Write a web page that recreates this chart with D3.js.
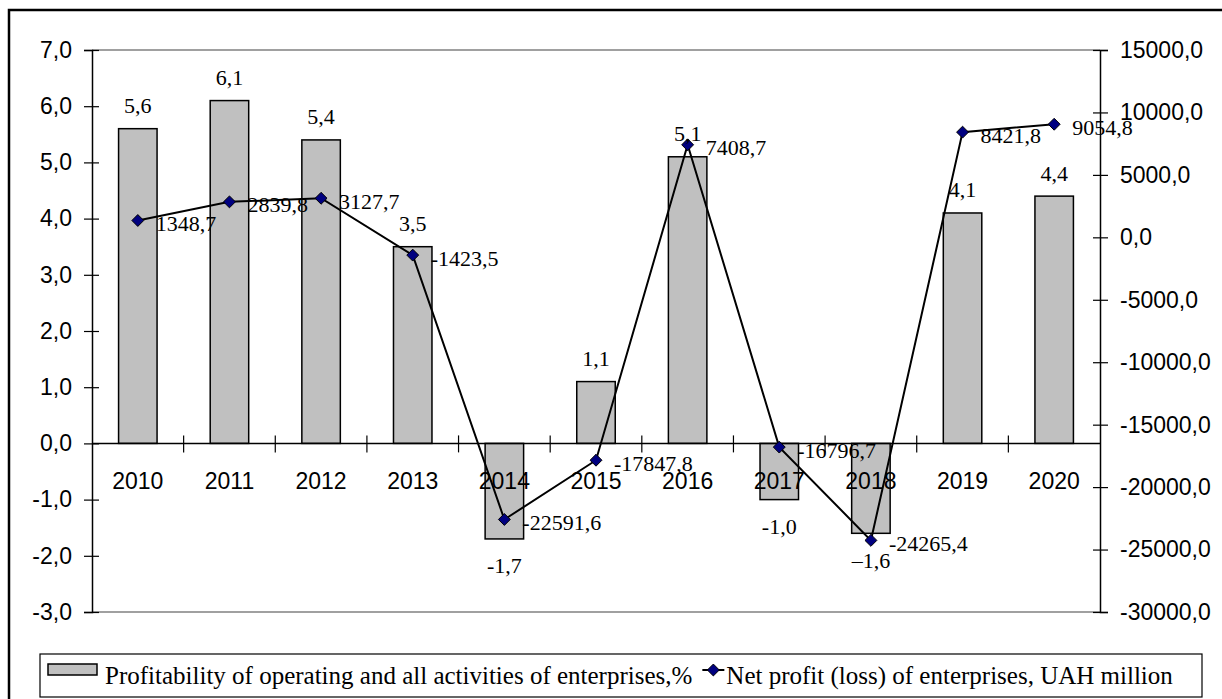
<!DOCTYPE html>
<html>
<head>
<meta charset="utf-8">
<script src="https://cdn.jsdelivr.net/npm/d3@7"></script>
<style>
  body { margin: 0; background: #fff; }
  svg { display: block; }
</style>
</head>
<body>
<div id="chart"></div>
<script>
const years = ["2010", "2011", "2012", "2013", "2014", "2015", "2016", "2017", "2018", "2019", "2020"];
const profitability = [5.6, 6.1, 5.4, 3.5, -1.7, 1.1, 5.1, -1.0, -1.6, 4.1, 4.4];
const profitLabels = ["5,6", "6,1", "5,4", "3,5", "-1,7", "1,1", "5,1", "-1,0", "\u20131,6", "4,1", "4,4"];
const netProfit = [1348.7, 2839.8, 3127.7, -1423.5, -22591.6, -17847.8, 7408.7, -16796.7, -24265.4, 8421.8, 9054.8];
const leftTicks = [7, 6, 5, 4, 3, 2, 1, 0, -1, -2, -3];
const rightTicks = [15000, 10000, 5000, 0, -5000, -10000, -15000, -20000, -25000, -30000];
const legendNames = ["Profitability of operating and all activities of enterprises,%", "Net profit (loss) of enterprises, UAH million"];

const W = 1222, H = 699;
const plotL = 92, plotR = 1100, plotT = 50, plotB = 612;
const sansFont = "'Liberation Sans', Arial, sans-serif";
const serifFont = "'Liberation Serif', 'Times New Roman', serif";

const svg = d3.select("#chart").append("svg")
  .attr("width", W)
  .attr("height", H);

// outer frame (only left/top edges show inside the window)
svg.append("rect")
  .attr("x", 9).attr("y", 10)
  .attr("width", 1240).attr("height", 720)
  .attr("fill", "none")
  .attr("stroke", "#000")
  .attr("stroke-width", 2.5);

const x = d3.scaleBand().domain(years).range([plotL, plotR]).padding(0);
const yL = d3.scaleLinear().domain([-3, 7]).range([plotB, plotT]);
const yR = d3.scaleLinear().domain([-30000, 15000]).range([plotB, plotT]);

const barW = x.bandwidth() * 0.42;
const fmt = d => d.toFixed(1).replace(".", ",");

// plot area top / bottom border
[plotT, plotB].forEach(yy => {
  svg.append("line")
    .attr("x1", plotL).attr("x2", plotR)
    .attr("y1", yy).attr("y2", yy)
    .attr("stroke", "#808080")
    .attr("stroke-width", 1.5);
});

// bars
svg.append("g").selectAll("rect")
  .data(profitability)
  .join("rect")
  .attr("x", (d, i) => x(years[i]) + (x.bandwidth() - barW) / 2)
  .attr("y", d => yL(Math.max(d, 0)))
  .attr("width", barW)
  .attr("height", d => Math.abs(yL(d) - yL(0)))
  .attr("fill", "#c0c0c0")
  .attr("stroke", "#000")
  .attr("stroke-width", 1.5);

// left axis
const axL = svg.append("g")
  .attr("transform", `translate(${plotL},0)`)
  .call(d3.axisLeft(yL).tickValues(leftTicks).tickFormat(fmt).tickSize(8).tickPadding(12));
axL.select(".domain").attr("stroke", "#000").attr("stroke-width", 1.5);
axL.selectAll(".tick line").attr("x1", -8).attr("x2", 7).attr("stroke", "#000").attr("stroke-width", 1.2);
axL.selectAll(".tick text").attr("x", -20).attr("font-family", sansFont).attr("font-size", 23).attr("fill", "#000");

// right axis
const axR = svg.append("g")
  .attr("transform", `translate(${plotR},0)`)
  .call(d3.axisRight(yR).tickValues(rightTicks).tickFormat(fmt).tickSize(8));
axR.select(".domain").attr("stroke", "#000").attr("stroke-width", 1.5);
axR.selectAll(".tick line").attr("x1", -7).attr("x2", 8).attr("stroke", "#000").attr("stroke-width", 1.2);
axR.selectAll(".tick text").attr("x", 20).attr("font-family", sansFont).attr("font-size", 23).attr("fill", "#000");

// category axis on zero line
const y0 = yL(0);
svg.append("line")
  .attr("x1", plotL).attr("x2", plotR)
  .attr("y1", y0).attr("y2", y0)
  .attr("stroke", "#000").attr("stroke-width", 1.5);
svg.append("g").selectAll("line")
  .data(years.slice(1))
  .join("line")
  .attr("x1", d => x(d)).attr("x2", d => x(d))
  .attr("y1", y0 - 8).attr("y2", y0 + 9)
  .attr("stroke", "#000").attr("stroke-width", 1.2);
svg.append("g").selectAll("text")
  .data(years)
  .join("text")
  .attr("x", d => x(d) + x.bandwidth() / 2)
  .attr("y", y0 + 38)
  .attr("text-anchor", "middle")
  .attr("dominant-baseline", "central")
  .attr("font-family", sansFont)
  .attr("font-size", 23)
  .text(d => d);

// line series
const line = d3.line()
  .x((d, i) => x(years[i]) + x.bandwidth() / 2)
  .y(d => yR(d));
svg.append("path")
  .datum(netProfit)
  .attr("d", line)
  .attr("fill", "none")
  .attr("stroke", "#000")
  .attr("stroke-width", 2);

const diamond = d3.symbol().type(d3.symbolDiamond2).size(90);
svg.append("g").selectAll("path")
  .data(netProfit)
  .join("path")
  .attr("d", diamond)
  .attr("transform", (d, i) => `translate(${x(years[i]) + x.bandwidth() / 2},${yR(d)})`)
  .attr("fill", "#000080")
  .attr("stroke", "#000")
  .attr("stroke-width", 1);

// line labels
svg.append("g").selectAll("text")
  .data(netProfit)
  .join("text")
  .attr("x", (d, i) => x(years[i]) + x.bandwidth() / 2 + 18)
  .attr("y", d => yR(d) + 3)
  .attr("dominant-baseline", "central")
  .attr("font-family", serifFont)
  .attr("font-size", 22)
  .text(d => fmt(d));

// bar labels
svg.append("g").selectAll("text")
  .data(profitability)
  .join("text")
  .attr("x", (d, i) => x(years[i]) + x.bandwidth() / 2)
  .attr("y", d => d >= 0 ? yL(d) - 23 : yL(d) + 27)
  .attr("text-anchor", "middle")
  .attr("dominant-baseline", "central")
  .attr("font-family", serifFont)
  .attr("font-size", 22)
  .text((d, i) => profitLabels[i]);

// legend
const lg = svg.append("g");
lg.append("rect")
  .attr("x", 40).attr("y", 654)
  .attr("width", 1162).attr("height", 43)
  .attr("fill", "#fff")
  .attr("stroke", "#000")
  .attr("stroke-width", 1.2);
lg.append("rect")
  .attr("x", 48).attr("y", 664)
  .attr("width", 49).attr("height", 11)
  .attr("fill", "#c0c0c0")
  .attr("stroke", "#000")
  .attr("stroke-width", 1.5);
const t1 = lg.append("text")
  .attr("x", 105).attr("y", 675)
  .attr("dominant-baseline", "central")
  .attr("font-family", serifFont)
  .attr("font-size", 25)
  .text(legendNames[0]);
const t1end = 105 + t1.node().getComputedTextLength();
const lx = t1end + 10;
lg.append("line")
  .attr("x1", lx).attr("x2", lx + 22)
  .attr("y1", 670).attr("y2", 670)
  .attr("stroke", "#000").attr("stroke-width", 2);
lg.append("path")
  .attr("d", diamond)
  .attr("transform", `translate(${lx + 11},670)`)
  .attr("fill", "#000080")
  .attr("stroke", "#000");
lg.append("text")
  .attr("x", lx + 24).attr("y", 675)
  .attr("dominant-baseline", "central")
  .attr("font-family", serifFont)
  .attr("font-size", 25)
  .text(legendNames[1]);
</script>
</body>
</html>
